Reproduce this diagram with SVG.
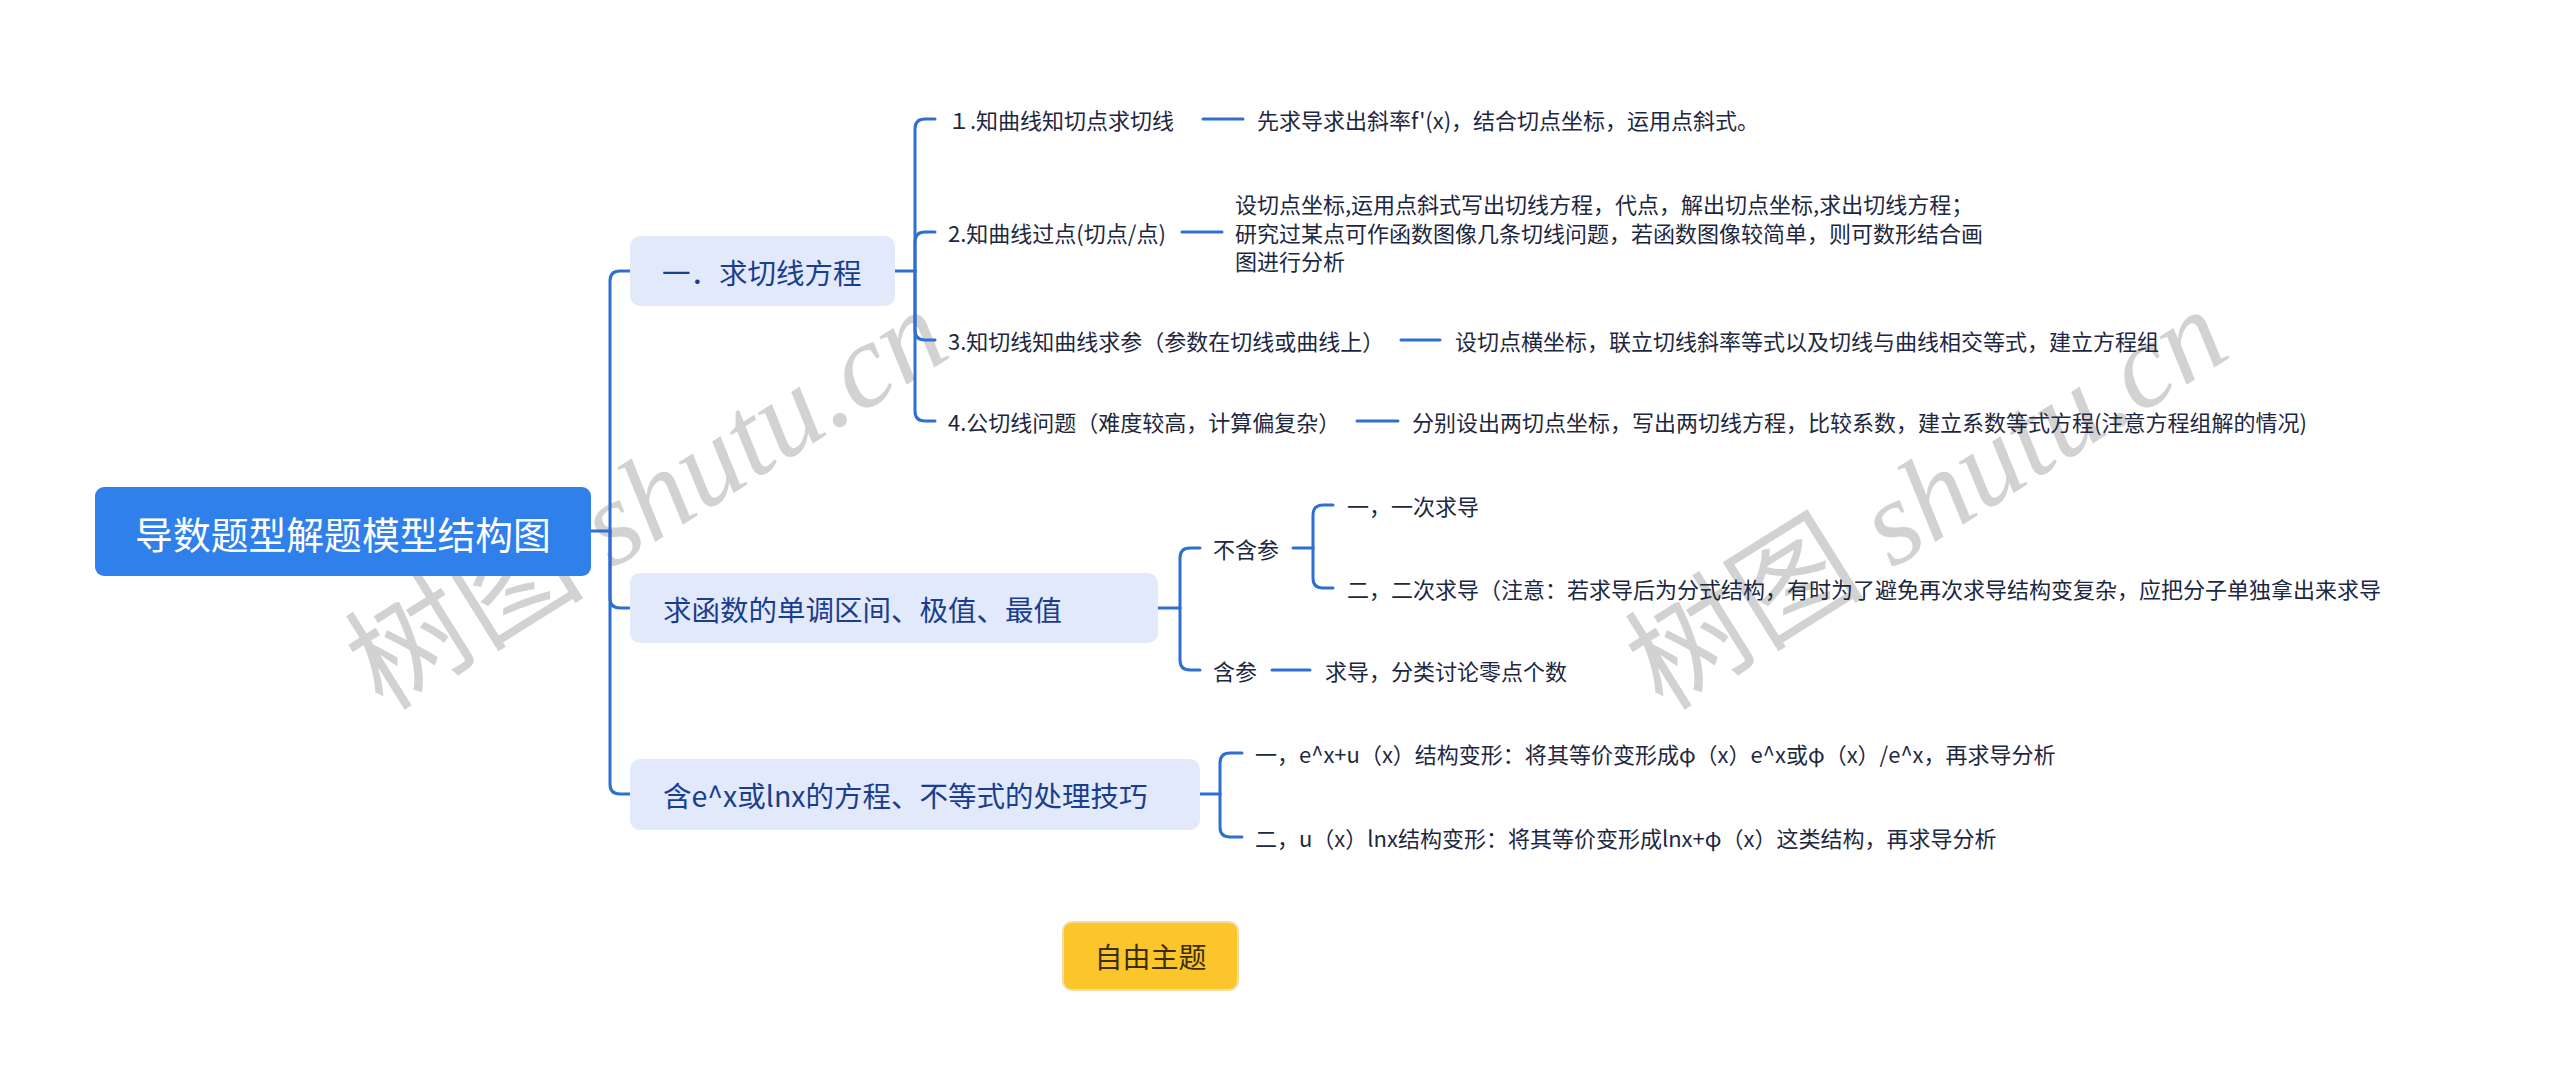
<svg xmlns="http://www.w3.org/2000/svg" width="2560" height="1086" viewBox="0 0 2560 1086">
<style>
.cn{fill:none;stroke:#2F6FD1;stroke-width:3;stroke-linecap:round}
.t{font-family:"Noto Sans CJK SC","Liberation Sans",sans-serif;dominant-baseline:central}
.root{fill:#ffffff;font-size:37.8px}
.sub{fill:#1B3E8C;font-size:28.5px}
.it{fill:#1E2740;font-size:22px}
.box{fill:#E1E9FB}
.wm{font-family:"Liberation Serif","Noto Sans CJK SC",serif;font-size:120px;fill:#d2d2d2}
</style>
<rect width="2560" height="1086" fill="#ffffff"/>
<g id="watermarks">
<text class="wm" transform="translate(383,712) rotate(-32)">树图 <tspan font-style="italic">shutu.cn</tspan></text>
<text class="wm" transform="translate(1663,712) rotate(-32)">树图 <tspan font-style="italic">shutu.cn</tspan></text>
</g>
<g id="connectors">
<path class="cn" d="M591 531 H610"/>
<path class="cn" d="M610 531 V281 Q610 271 620 271 H630"/>
<path class="cn" d="M610 531 V598 Q610 608 620 608 H630"/>
<path class="cn" d="M610 531 V784 Q610 794 620 794 H630"/>
<path class="cn" d="M895 271 H915"/>
<path class="cn" d="M915 271 V129 Q915 119 925 119 H935"/>
<path class="cn" d="M915 271 V242 Q915 232 925 232 H935"/>
<path class="cn" d="M915 271 V330 Q915 340 925 340 H935"/>
<path class="cn" d="M915 271 V411 Q915 421 925 421 H935"/>
<path class="cn" d="M1203 119 H1243"/>
<path class="cn" d="M1182 232 H1222"/>
<path class="cn" d="M1401 340 H1440"/>
<path class="cn" d="M1357 421 H1398"/>
<path class="cn" d="M1158 608 H1180"/>
<path class="cn" d="M1180 608 V558 Q1180 548 1190 548 H1200"/>
<path class="cn" d="M1180 608 V660 Q1180 670 1190 670 H1200"/>
<path class="cn" d="M1293 548 H1313"/>
<path class="cn" d="M1313 548 V515 Q1313 505 1323 505 H1333"/>
<path class="cn" d="M1313 548 V578 Q1313 588 1323 588 H1333"/>
<path class="cn" d="M1272 670 H1310"/>
<path class="cn" d="M1200 794 H1220"/>
<path class="cn" d="M1220 794 V763 Q1220 753 1230 753 H1242"/>
<path class="cn" d="M1220 794 V827 Q1220 837 1230 837 H1242"/>
</g>
<g id="root">
<rect x="95" y="487" width="496" height="89" rx="9" fill="#2F80EB"/>
<text class="t root" x="343" y="532" text-anchor="middle">导数题型解题模型结构图</text>
</g>
<g id="n1">
<rect class="box" x="630" y="236" width="265" height="70" rx="10"/>
<text class="t sub" x="662" y="271">一．求切线方程</text>
</g>
<g id="n1-1"><text class="t it" x="948" y="119">１.知曲线知切点求切线</text></g>
<g id="n1-1-1"><text class="t it" x="1257" y="119">先求导求出斜率f'(x)，结合切点坐标，运用点斜式。</text></g>
<g id="n1-2"><text class="t it" x="948" y="232">2.知曲线过点(切点/点)</text></g>
<g id="n1-2-1"><text class="t it" x="1235" y="203">设切点坐标,运用点斜式写出切线方程，代点，解出切点坐标,求出切线方程；</text>
<text class="t it" x="1235" y="232">研究过某点可作函数图像几条切线问题，若函数图像较简单，则可数形结合画</text>
<text class="t it" x="1235" y="260">图进行分析</text></g>
<g id="n1-3"><text class="t it" x="948" y="340">3.知切线知曲线求参（参数在切线或曲线上）</text></g>
<g id="n1-3-1"><text class="t it" x="1455" y="340">设切点横坐标，联立切线斜率等式以及切线与曲线相交等式，建立方程组</text></g>
<g id="n1-4"><text class="t it" x="948" y="421">4.公切线问题（难度较高，计算偏复杂）</text></g>
<g id="n1-4-1"><text class="t it" x="1412" y="421">分别设出两切点坐标，写出两切线方程，比较系数，建立系数等式方程(注意方程组解的情况)</text></g>
<g id="n2">
<rect class="box" x="630" y="573" width="528" height="70" rx="10"/>
<text class="t sub" x="663" y="608">求函数的单调区间、极值、最值</text>
</g>
<g id="n2-1"><text class="t it" x="1213" y="548">不含参</text></g>
<g id="n2-1-1"><text class="t it" x="1347" y="505">一，一次求导</text></g>
<g id="n2-1-2"><text class="t it" x="1347" y="588">二，二次求导（注意：若求导后为分式结构，有时为了避免再次求导结构变复杂，应把分子单独拿出来求导</text></g>
<g id="n2-2"><text class="t it" x="1213" y="670">含参</text></g>
<g id="n2-2-1"><text class="t it" x="1325" y="670">求导，分类讨论零点个数</text></g>
<g id="n3">
<rect class="box" x="630" y="759" width="570" height="71" rx="10"/>
<text class="t sub" x="663" y="794">含e^x或lnx的方程、不等式的处理技巧</text>
</g>
<g id="n3-1"><text class="t it" x="1255" y="753">一，e^x+u（x）结构变形：将其等价变形成φ（x）e^x或φ（x）/e^x，再求导分析</text></g>
<g id="n3-2"><text class="t it" x="1255" y="837">二，u（x）lnx结构变形：将其等价变形成lnx+φ（x）这类结构，再求导分析</text></g>
<g id="free">
<rect x="1063" y="922" width="175" height="68" rx="9" fill="#FCC52C" stroke="#F3DC9E" stroke-width="2"/>
<text class="t" x="1150.5" y="956" text-anchor="middle" font-size="28" fill="#3A2E05">自由主题</text>
</g>
</svg>
